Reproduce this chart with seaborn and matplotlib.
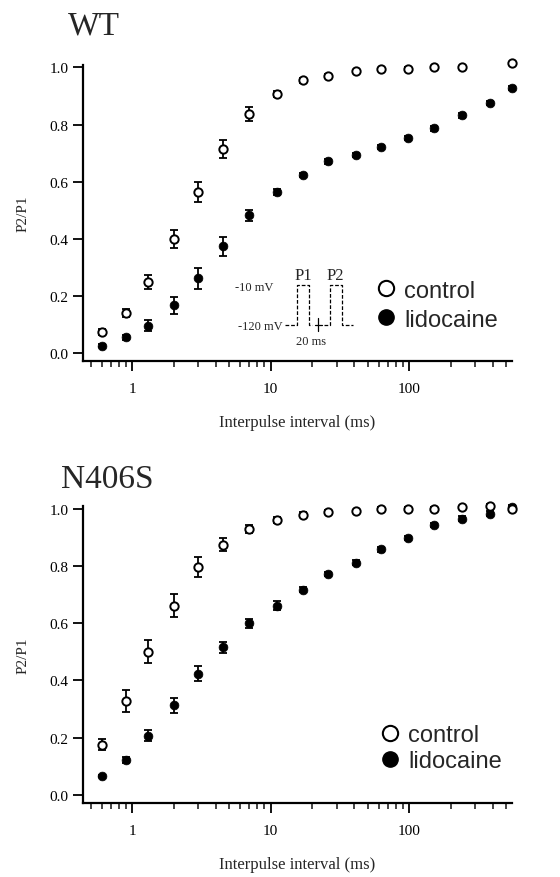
import numpy as np
import matplotlib
matplotlib.use("Agg")
import matplotlib.pyplot as plt
from matplotlib.lines import Line2D
from matplotlib.ticker import LogLocator, FixedLocator, FixedFormatter
import seaborn as sns

# interpulse intervals (ms)
intervals = [0.6, 0.9, 1.3, 2, 3, 4.5, 7, 11, 17, 26, 41, 63, 98, 152, 239, 380, 550]

# WT
wt_control = [0.073, 0.14, 0.249, 0.40, 0.564, 0.714, 0.838, 0.908, 0.955, 0.971,
              0.987, 0.994, 0.996, 1.0, 1.0, np.nan, 1.014]
wt_control_err = [0.01, 0.015, 0.025, 0.032, 0.036, 0.031, 0.025, 0.01, 0.008, 0.006,
                  0.005, 0.005, 0.005, 0.005, 0.005, np.nan, 0.005]
wt_lido = [0.026, 0.055, 0.096, 0.167, 0.261, 0.373, 0.482, 0.564, 0.624, 0.671,
           0.694, 0.722, 0.753, 0.787, 0.832, 0.876, 0.928]
wt_lido_err = [0.005, 0.008, 0.018, 0.03, 0.036, 0.032, 0.019, 0.01, 0.008, 0.008,
               0.008, 0.008, 0.008, 0.008, 0.008, 0.008, 0.008]

# N406S
n406s_control = [0.176, 0.327, 0.50, 0.661, 0.795, 0.874, 0.927, 0.961, 0.979, 0.988,
                 0.99, 1.0, 1.0, 1.0, 1.005, 1.01, 1.0]
n406s_control_err = [0.02, 0.038, 0.04, 0.04, 0.034, 0.022, 0.014, 0.01, 0.008, 0.006,
                     0.005, 0.005, 0.005, 0.005, 0.005, 0.005, 0.005]
n406s_lido = [0.066, 0.121, 0.207, 0.313, 0.424, 0.515, 0.599, 0.661, 0.717, 0.772,
              0.811, 0.857, 0.897, 0.942, 0.965, 0.982, 1.006]
n406s_lido_err = [0.005, 0.01, 0.019, 0.026, 0.026, 0.02, 0.015, 0.015, 0.01, 0.008,
                  0.008, 0.008, 0.008, 0.008, 0.008, 0.008, 0.008]

sns.set_style("ticks")
plt.rcParams['font.family'] = ['Liberation Serif', 'DejaVu Serif']

fig = plt.figure(figsize=(5.6, 8.78), dpi=100)
ax1 = fig.add_axes([0.148, 0.5877, 0.766, 0.337])
ax2 = fig.add_axes([0.148, 0.0843, 0.766, 0.338])

panels = [
    (ax1, "WT", (-0.035, 1.108), wt_control, wt_control_err, wt_lido, wt_lido_err),
    (ax2, "N406S", (-0.05, 1.064), n406s_control, n406s_control_err, n406s_lido, n406s_lido_err),
]

for ax, title, title_xy, ctl, ctl_err, lid, lid_err in panels:
    ax.errorbar(intervals, lid, yerr=lid_err, fmt='none', ecolor='black',
                elinewidth=1.3, capsize=3, capthick=1.3, clip_on=False, zorder=2)
    ax.errorbar(intervals, ctl, yerr=ctl_err, fmt='none', ecolor='black',
                elinewidth=1.3, capsize=3, capthick=1.3, clip_on=False, zorder=2)
    sns.scatterplot(x=intervals, y=lid, ax=ax, color='black', edgecolor='black',
                    s=40, marker='o', clip_on=False, zorder=3, legend=False)
    sns.scatterplot(x=intervals, y=ctl, ax=ax, facecolor='white', edgecolor='black',
                    linewidth=1.4, s=36, marker='o', clip_on=False, zorder=4, legend=False)

    ax.set_xscale('log')
    ax.set_xlim(0.44, 550)
    ax.set_ylim(-0.028, 1.008)
    ax.set_yticks([0.0, 0.2, 0.4, 0.6, 0.8, 1.0])
    ax.set_yticklabels(["0.0", "0.2", "0.4", "0.6", "0.8", "1.0"])
    ax.xaxis.set_major_locator(FixedLocator([1, 10, 100]))
    ax.xaxis.set_major_formatter(FixedFormatter(["1", "10", "100"]))
    ax.xaxis.set_minor_locator(LogLocator(base=10, subs=np.arange(2, 10), numticks=20))
    ax.tick_params(axis='both', which='major', direction='out', length=7, width=1.3,
                   labelsize=11, colors='black')
    ax.tick_params(axis='x', which='minor', direction='out', length=4, width=1.2)
    ax.tick_params(axis='x', which='major', pad=8)
    sns.despine(ax=ax)
    for side in ['left', 'bottom']:
        ax.spines[side].set_linewidth(1.6)
        ax.spines[side].set_color('black')
    ax.set_xlabel("Interpulse interval (ms)", fontsize=12, labelpad=14)
    ax.set_ylabel("P2/P1", fontsize=11, labelpad=14)
    ax.text(title_xy[0], title_xy[1], title, transform=ax.transAxes, fontsize=24,
            ha='left', va='baseline')

    handles = [
        Line2D([], [], linestyle='none', marker='o', markersize=11,
               markerfacecolor='white', markeredgecolor='black', markeredgewidth=1.5),
        Line2D([], [], linestyle='none', marker='o', markersize=11,
               markerfacecolor='black', markeredgecolor='black'),
    ]
    if ax is ax1:
        spacing, anchor = 0.3, (0.652, 0.315)
    else:
        spacing, anchor = 0.15, (0.662, 0.305)
    ax.legend(handles, ["control", "lidocaine"], loc='upper left', bbox_to_anchor=anchor,
              frameon=False, handletextpad=0.25, handlelength=1.0, borderpad=0,
              labelspacing=spacing, prop={'family': 'Liberation Sans', 'size': 17})

# pulse protocol sketch in the WT panel
t = ax1.transAxes
lw = 0.9
ax1.plot([0.471, 0.499, 0.499, 0.527, 0.527, 0.535], [0.122, 0.122, 0.257, 0.257, 0.122, 0.122],
         transform=t, color='black', lw=lw, ls=(0, (3, 1.5)), clip_on=False)
ax1.plot([0.563, 0.576, 0.576, 0.603, 0.603, 0.629], [0.122, 0.122, 0.257, 0.257, 0.122, 0.122],
         transform=t, color='black', lw=lw, ls=(0, (3, 1.5)), clip_on=False)
ax1.plot([0.541, 0.557], [0.122, 0.122], transform=t, color='black', lw=lw, clip_on=False)
ax1.plot([0.549, 0.549], [0.10, 0.145], transform=t, color='black', lw=lw, clip_on=False)
ax1.text(0.443, 0.25, "-10 mV", transform=t, fontsize=9, ha='right', va='center')
ax1.text(0.466, 0.118, "-120 mV", transform=t, fontsize=9, ha='right', va='center')
ax1.text(0.513, 0.262, "P1", transform=t, fontsize=12, ha='center', va='bottom')
ax1.text(0.589, 0.262, "P2", transform=t, fontsize=12, ha='center', va='bottom')
ax1.text(0.531, 0.068, "20 ms", transform=t, fontsize=9, ha='center', va='center')

fig.savefig("out.png", dpi=100)
